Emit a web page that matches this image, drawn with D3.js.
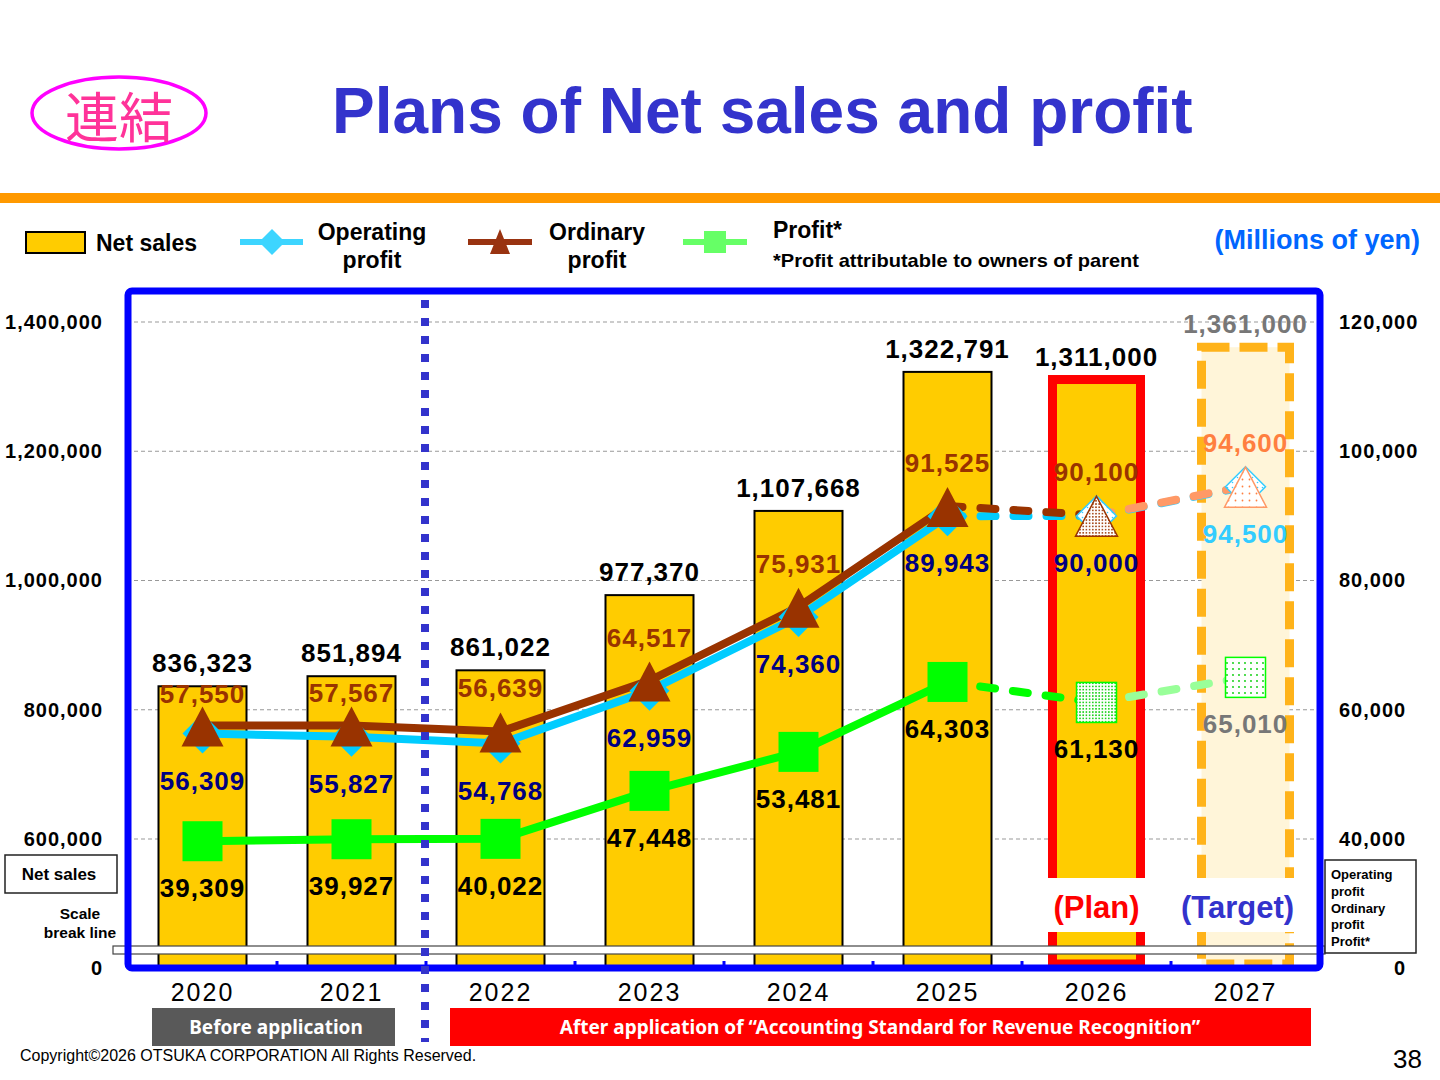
<!DOCTYPE html>
<html>
<head>
<meta charset="utf-8">
<script src="https://cdn.jsdelivr.net/npm/d3@7"></script>
<style>
  body { margin: 0; background: #fff; }
  svg { display: block; font-family: "Liberation Sans", Arial, sans-serif; }
</style>
</head>
<body>
<svg id="chart" width="1440" height="1080"></svg>
<script>
// ---- data ----
const years = ['2020', '2021', '2022', '2023', '2024', '2025', '2026', '2027']
const stages = ['actual', 'actual', 'actual', 'actual', 'actual', 'actual', 'plan', 'target']
const netSales = [836323, 851894, 861022, 977370, 1107668, 1322791, 1311000, 1361000]
const operatingProfit = [56309, 55827, 54768, 62959, 74360, 89943, 90000, 94500]
const ordinaryProfit = [57550, 57567, 56639, 64517, 75931, 91525, 90100, 94600]
const profit = [39309, 39927, 40022, 47448, 53481, 64303, 61130, 65010]
const leftTicks = [0, 600000, 800000, 1000000, 1200000, 1400000]
const rightTicks = [0, 40000, 60000, 80000, 100000, 120000]

const rows = years.map((year, i) => ({
	year, i, stage: stages[i],
	sales: netSales[i], op: operatingProfit[i], ord: ordinaryProfit[i], pr: profit[i]
}))

const layout = {"width": 1440, "height": 1080, "left": 128, "right": 1320, "top": 291, "bottom": 968, "breakY": 839}

const svg = d3.select('#chart')
const fmt = d3.format(',')

// scales (both axes have a scale break below the first labelled tick)
const x = d3.scaleBand().domain(years).range([layout.left, layout.right])
const cx = d => x(d.year) + x.bandwidth() / 2
const barW = 88

const yL = d3.scaleLinear()
	.domain([0, 600000, 1400000])
	.range([layout.bottom, layout.breakY, 322])

const yR = d3.scaleLinear()
	.domain([0, 40000, 120000])
	.range([layout.bottom, layout.breakY, 322])

// patterns for plan / target markers
const defs = svg.append('defs')
function dots(id, size, r, color) {
	const p = defs.append('pattern')
		.attr('id', id)
		.attr('width', size).attr('height', size)
		.attr('patternUnits', 'userSpaceOnUse')
	p.append('rect').attr('width', size).attr('height', size).attr('fill', 'white')
	p.append('circle').attr('cx', size / 2).attr('cy', size / 2).attr('r', r).attr('fill', color)
}
dots('dotBrown', 3.2, 0.9, '#993300')
dots('dotOrange', 7, 0.9, '#ff7f3f')
dots('dotBlue', 5, 0.8, '#33ccff')
dots('dotGreenDense', 3.2, 0.9, '#00cc00')
dots('dotGreen', 6, 0.9, '#00cc00')

// ---- header ----
svg.append('ellipse')
	.attr('cx', 119).attr('cy', 113).attr('rx', 87).attr('ry', 36)
	.attr('fill', 'none').attr('stroke', '#ff00ff').attr('stroke-width', 3.5)
svg.append('text')
	.attr('x', 119).attr('y', 114)
	.attr('text-anchor', 'middle').attr('dominant-baseline', 'central')
	.attr('font-family', '"Noto Sans CJK JP"')
	.attr('font-size', 54).attr('fill', '#ff3399')
	.text('連結')

svg.append('text')
	.attr('x', 332).attr('y', 133)
	.attr('font-size', 64).attr('font-weight', 'bold').attr('fill', '#3333cc')
	.text('Plans of Net sales and profit')

svg.append('rect')
	.attr('x', 0).attr('y', 193).attr('width', layout.width).attr('height', 10)
	.attr('fill', '#ff9900')

// ---- legend ----
const legend = svg.append('g').attr('font-weight', 'bold').attr('font-size', 23)

legend.append('rect')
	.attr('x', 26).attr('y', 232).attr('width', 59).attr('height', 21)
	.attr('fill', '#ffcc00').attr('stroke', '#000').attr('stroke-width', 2)
legend.append('text').attr('x', 96).attr('y', 251).text('Net sales')

legend.append('line').attr('x1', 240).attr('x2', 303).attr('y1', 242).attr('y2', 242)
	.attr('stroke', '#3dd5ff').attr('stroke-width', 6)
legend.append('path').attr('d', 'M272,229 L285,242 L272,255 L259,242 Z').attr('fill', '#3dd5ff')
legend.append('text').attr('x', 372).attr('y', 240).attr('text-anchor', 'middle').text('Operating')
legend.append('text').attr('x', 372).attr('y', 268).attr('text-anchor', 'middle').text('profit')

legend.append('line').attr('x1', 468).attr('x2', 532).attr('y1', 242).attr('y2', 242)
	.attr('stroke', '#993311').attr('stroke-width', 6)
legend.append('path').attr('d', 'M500,229 L510,254 L490,254 Z').attr('fill', '#993311')
legend.append('text').attr('x', 597).attr('y', 240).attr('text-anchor', 'middle').text('Ordinary')
legend.append('text').attr('x', 597).attr('y', 268).attr('text-anchor', 'middle').text('profit')

legend.append('line').attr('x1', 683).attr('x2', 747).attr('y1', 242).attr('y2', 242)
	.attr('stroke', '#66ff66').attr('stroke-width', 6)
legend.append('rect').attr('x', 704).attr('y', 231).attr('width', 22).attr('height', 22).attr('fill', '#66ff66')
legend.append('text').attr('x', 773).attr('y', 238).text('Profit*')
legend.append('text').attr('x', 773).attr('y', 267).attr('font-size', 19)
	.attr('textLength', 366).attr('lengthAdjust', 'spacingAndGlyphs')
	.text('*Profit attributable to owners of parent')

svg.append('text')
	.attr('x', 1420).attr('y', 249).attr('text-anchor', 'end')
	.attr('font-size', 27).attr('font-weight', 'bold').attr('fill', '#0066ff')
	.text('(Millions of yen)')

// ---- grid ----
svg.append('g')
	.selectAll('.grid')
	.data(leftTicks.filter(t => t > 0))
	.join('line')
	.attr('class', 'grid')
	.attr('x1', 134).attr('x2', 1316)
	.attr('y1', d => yL(d)).attr('y2', d => yL(d))
	.attr('stroke', '#999').attr('stroke-width', 1).attr('stroke-dasharray', '4,3')

// ---- bars ----
const bars = svg.append('g')
bars.selectAll('.bar')
	.data(rows)
	.join('rect')
	.attr('class', 'bar')
	.attr('x', d => cx(d) - barW / 2)
	.attr('width', barW)
	.attr('y', d => yL(d.sales))
	.attr('height', d => yL(0) - yL(d.sales) - (d.stage == 'actual' ? 0 : 4))
	.attr('fill', d => d.stage == 'target' ? '#fff5d9' : '#ffcc00')
	.attr('stroke', d => d.stage == 'plan' ? '#ff0000' : d.stage == 'target' ? '#ffb31a' : '#000')
	.attr('stroke-width', d => d.stage == 'actual' ? 2 : 9)
	.attr('stroke-dasharray', d => d.stage == 'target' ? '28,10' : null)

// scale break strip
svg.append('rect')
	.attr('x', 113).attr('y', 946).attr('width', 1212).attr('height', 8)
	.attr('fill', '#fff').attr('stroke', '#444').attr('stroke-width', 1.2)

// white panel behind (Plan)/(Target)
svg.append('rect')
	.attr('x', 1044).attr('y', 878).attr('width', 252).attr('height', 54)
	.attr('fill', '#fff')
svg.append('text')
	.attr('x', cx(rows[6])).attr('y', 918).attr('text-anchor', 'middle')
	.attr('font-size', 31).attr('font-weight', 'bold').attr('fill', '#ff0000')
	.text('(Plan)')
svg.append('text')
	.attr('x', cx(rows[7]) - 8).attr('y', 918).attr('text-anchor', 'middle')
	.attr('font-size', 31).attr('font-weight', 'bold').attr('fill', '#3333cc')
	.text('(Target)')

// ---- lines ----
const series = [
	{key: 'op', solid: '#00ccff', light: '#33ccff'},
	{key: 'ord', solid: '#993300', light: '#ff9966'},
	{key: 'pr', solid: '#00ff00', light: '#99ff99'}
]
const lines = svg.append('g').attr('fill', 'none').attr('stroke-width', 8)

series.forEach(s => {
	const line = d3.line().x(cx).y(d => yR(d[s.key]))
	lines.append('path')
		.attr('d', line(rows.filter(d => d.stage == 'actual')))
		.attr('stroke', s.solid)
	lines.append('path')
		.attr('d', line(rows.slice(5, 7)))
		.attr('stroke', s.solid)
		.attr('stroke-dasharray', '15,18').attr('stroke-linecap', 'round')
	lines.append('path')
		.attr('d', line(rows.slice(6, 8)))
		.attr('stroke', s.light)
		.attr('stroke-dasharray', '15,18').attr('stroke-linecap', 'round')
})

// ---- markers ----
const markers = svg.append('g')
const diamond = (px, py, r) => `M${px},${py - r} L${px + r},${py} L${px},${py + r} L${px - r},${py} Z`
const triangle = (px, py) => `M${px},${py - 19} L${px + 21},${py + 21} L${px - 21},${py + 21} Z`

markers.selectAll('.op-mark')
	.data(rows)
	.join('path')
	.attr('class', 'op-mark')
	.attr('d', d => diamond(cx(d), yR(d.op), 20))
	.attr('fill', d => d.stage == 'actual' ? '#00ccff' : 'url(#dotBlue)')
	.attr('stroke', d => d.stage == 'actual' ? 'none' : '#33ccff')
	.attr('stroke-width', 1.5)

markers.selectAll('.ord-mark')
	.data(rows)
	.join('path')
	.attr('class', 'ord-mark')
	.attr('d', d => triangle(cx(d), yR(d.ord)))
	.attr('fill', d => d.stage == 'actual' ? '#993300' : d.stage == 'plan' ? 'url(#dotBrown)' : 'url(#dotOrange)')
	.attr('stroke', d => d.stage == 'actual' ? 'none' : d.stage == 'plan' ? '#993300' : '#ff9966')
	.attr('stroke-width', 1.5)

markers.selectAll('.pr-mark')
	.data(rows)
	.join('rect')
	.attr('class', 'pr-mark')
	.attr('x', d => cx(d) - 20).attr('y', d => yR(d.pr) - 20)
	.attr('width', 40).attr('height', 40)
	.attr('fill', d => d.stage == 'actual' ? '#00ff00' : d.stage == 'plan' ? 'url(#dotGreenDense)' : 'url(#dotGreen)')
	.attr('stroke', d => d.stage == 'actual' ? 'none' : '#00ff00')
	.attr('stroke-width', 1.5)

// ---- value labels ----
const labels = svg.append('g')
	.attr('font-size', 26).attr('font-weight', 'bold')
	.attr('letter-spacing', 1).attr('text-anchor', 'middle')

labels.selectAll('.sales-label')
	.data(rows)
	.join('text')
	.attr('class', 'sales-label')
	.attr('x', cx).attr('y', d => yL(d.sales) - 14)
	.attr('fill', d => d.stage == 'target' ? '#777' : '#000')
	.text(d => fmt(d.sales))

// first two ordinary labels sit lower, tucked under the sales labels
labels.selectAll('.ord-label')
	.data(rows)
	.join('text')
	.attr('class', 'ord-label')
	.attr('x', cx).attr('y', d => yR(d.ord) - (d.i < 2 ? 23 : 34))
	.attr('fill', d => d.stage == 'target' ? '#ff7f3f' : '#993300')
	.text(d => fmt(d.ord))

labels.selectAll('.op-label')
	.data(rows)
	.join('text')
	.attr('class', 'op-label')
	.attr('x', cx).attr('y', d => yR(d.op) + 56)
	.attr('fill', d => d.stage == 'target' ? '#33ccff' : '#000080')
	.text(d => fmt(d.op))

labels.selectAll('.pr-label')
	.data(rows)
	.join('text')
	.attr('class', 'pr-label')
	.attr('x', cx).attr('y', d => yR(d.pr) + 56)
	.attr('fill', d => d.stage == 'target' ? '#777' : '#000')
	.text(d => fmt(d.pr))

// ---- frame ----
svg.append('rect')
	.attr('x', layout.left).attr('y', layout.top)
	.attr('width', layout.right - layout.left).attr('height', layout.bottom - layout.top)
	.attr('rx', 4)
	.attr('fill', 'none').attr('stroke', '#0000ff').attr('stroke-width', 7)

// tiny ticks between categories on the baseline
svg.append('g')
	.selectAll('.cat-tick')
	.data(years.slice(1))
	.join('rect')
	.attr('class', 'cat-tick')
	.attr('x', d => x(d) - 1.5).attr('y', layout.bottom - 7)
	.attr('width', 3).attr('height', 5)
	.attr('fill', '#0000ff')

// ---- axes ----
const gx = svg.append('g')
	.attr('transform', `translate(0, ${layout.bottom})`)
	.call(d3.axisBottom(x).tickSize(0).tickPadding(15))
gx.select('.domain').remove()
gx.selectAll('text')
	.attr('font-family', '"Liberation Sans", Arial, sans-serif')
	.attr('font-size', 25).attr('letter-spacing', 2).attr('fill', '#000')

const gl = svg.append('g')
	.attr('transform', 'translate(103, 0)')
	.call(d3.axisLeft(yL).tickValues(leftTicks).tickSize(0).tickPadding(0).tickFormat(fmt))
gl.select('.domain').remove()
gl.selectAll('text')
	.attr('font-family', '"Liberation Sans", Arial, sans-serif')
	.attr('font-size', 20).attr('font-weight', 'bold').attr('letter-spacing', 1).attr('fill', '#000')

const gr = svg.append('g')
	.attr('transform', 'translate(1339, 0)')
	.call(d3.axisRight(yR).tickValues(rightTicks).tickSize(0).tickPadding(0).tickFormat(fmt))
gr.select('.domain').remove()
gr.selectAll('text')
	.attr('font-family', '"Liberation Sans", Arial, sans-serif')
	.attr('font-size', 20).attr('font-weight', 'bold').attr('letter-spacing', 1).attr('fill', '#000')
gr.selectAll('.tick').filter(d => d == 0).select('text')
	.attr('text-anchor', 'end').attr('x', 67)

// ---- axis notes ----
svg.append('rect')
	.attr('x', 5).attr('y', 855).attr('width', 112).attr('height', 38)
	.attr('fill', '#fff').attr('stroke', '#222').attr('stroke-width', 1.5)
svg.append('text')
	.attr('x', 59).attr('y', 880).attr('text-anchor', 'middle')
	.attr('font-size', 17).attr('font-weight', 'bold')
	.text('Net sales')
svg.append('g')
	.attr('font-size', 15.5).attr('font-weight', 'bold').attr('text-anchor', 'middle')
	.selectAll('text')
	.data(['Scale', 'break line'])
	.join('text')
	.attr('x', 80).attr('y', (d, i) => 919 + i * 19)
	.text(d => d)

svg.append('rect')
	.attr('x', 1325).attr('y', 860).attr('width', 91).attr('height', 93)
	.attr('fill', '#fff').attr('stroke', '#222').attr('stroke-width', 1.5)
svg.append('g')
	.attr('font-size', 13).attr('font-weight', 'bold')
	.selectAll('text')
	.data(['Operating', 'profit', 'Ordinary', 'profit', 'Profit*'])
	.join('text')
	.attr('x', 1331).attr('y', (d, i) => 879 + i * 16.8)
	.text(d => d)

// dotted divider between before/after application
svg.append('line')
	.attr('x1', 425).attr('x2', 425).attr('y1', 300).attr('y2', 1042)
	.attr('stroke', '#3333cc').attr('stroke-width', 8).attr('stroke-dasharray', '8,10')

// ---- footer ----
svg.append('rect')
	.attr('x', 152).attr('y', 1008).attr('width', 243).attr('height', 38)
	.attr('fill', '#595959')
svg.append('text')
	.attr('x', 276).attr('y', 1034).attr('text-anchor', 'middle')
	.attr('font-family', '"Noto Sans", sans-serif')
	.attr('font-size', 19).attr('font-weight', 'bold').attr('fill', '#fff')
	.text('Before application')

svg.append('rect')
	.attr('x', 450).attr('y', 1008).attr('width', 861).attr('height', 38)
	.attr('fill', '#ff0000')
svg.append('text')
	.attr('x', 880).attr('y', 1034).attr('text-anchor', 'middle')
	.attr('font-family', '"Noto Sans", sans-serif')
	.attr('font-size', 19).attr('font-weight', 'bold').attr('fill', '#fff')
	.text('After application of “Accounting Standard for Revenue Recognition”')

svg.append('text')
	.attr('x', 20).attr('y', 1061)
	.attr('font-size', 16)
	.text('Copyright©2026 OTSUKA CORPORATION All Rights Reserved.')

svg.append('text')
	.attr('x', 1422).attr('y', 1068).attr('text-anchor', 'end')
	.attr('font-size', 26)
	.text('38')
</script>
</body>
</html>
